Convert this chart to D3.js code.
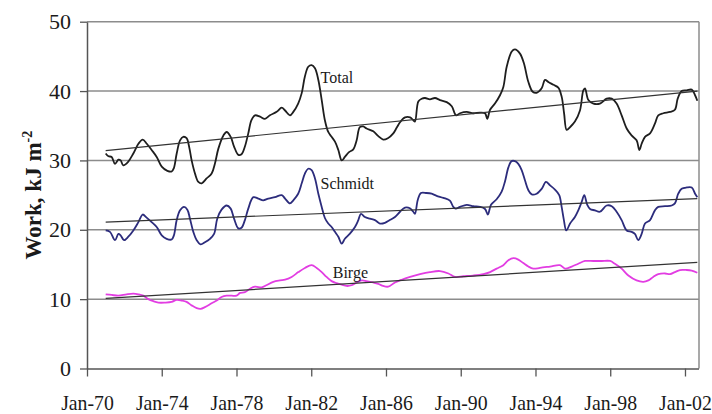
<!DOCTYPE html>
<html>
<head>
<meta charset="utf-8">
<script src="https://cdn.jsdelivr.net/npm/d3@7"></script>
<style>
  html, body { margin: 0; padding: 0; background: #fff; }
  svg { display: block; }
  text { font-family: "Liberation Serif", "Times New Roman", serif; fill: #1a1a1a; }
</style>
</head>
<body>
<svg id="chart" width="712" height="414"></svg>
<script>
// Monthly-smoothed lake work series (decimal years, kJ m^-2)
const totalYears = [1971.0,1971.15,1971.32,1971.5,1971.68,1971.8,1971.94,1972.2,1972.48,1972.75,1972.98,1973.2,1973.46,1973.73,1974.0,1974.3,1974.53,1974.65,1974.8,1974.98,1975.15,1975.33,1975.47,1975.6,1975.78,1975.96,1976.14,1976.4,1976.67,1976.85,1977.03,1977.3,1977.47,1977.69,1977.87,1978.1,1978.27,1978.45,1978.63,1978.8,1978.99,1979.26,1979.52,1979.79,1980.15,1980.42,1980.6,1980.86,1981.04,1981.3,1981.49,1981.66,1981.84,1982.02,1982.2,1982.38,1982.56,1982.73,1982.91,1983.09,1983.27,1983.45,1983.63,1983.8,1984.02,1984.25,1984.43,1984.6,1984.78,1984.96,1985.32,1985.59,1985.85,1986.1,1986.39,1986.57,1986.75,1987.02,1987.29,1987.46,1987.55,1987.73,1987.91,1988.09,1988.35,1988.62,1988.89,1989.25,1989.52,1989.75,1989.96,1990.32,1990.67,1991.03,1991.3,1991.42,1991.57,1991.83,1992.1,1992.28,1992.46,1992.73,1992.9,1993.17,1993.38,1993.62,1993.85,1994.06,1994.33,1994.51,1994.69,1994.96,1995.22,1995.4,1995.53,1995.67,1995.85,1996.11,1996.38,1996.56,1996.65,1996.83,1997.1,1997.45,1997.81,1998.08,1998.34,1998.61,1998.88,1999.14,1999.41,1999.56,1999.68,1999.86,2000.13,2000.39,2000.57,2000.84,2001.2,2001.46,2001.61,2001.82,2002.09,2002.36,2002.54,2002.66];
const totalValues = [31.0,30.6,30.5,29.5,30.1,30.0,29.3,29.8,31.0,32.4,33.0,32.4,31.5,30.5,29.1,28.5,28.4,28.9,31.0,32.9,33.4,33.2,31.9,30.0,28.1,26.9,26.7,27.4,28.1,29.6,31.7,33.6,34.1,33.4,32.0,30.8,30.9,32.0,33.9,35.8,36.5,36.3,36.0,36.5,37.0,37.6,37.2,36.5,37.0,38.2,39.7,42.1,43.5,43.75,43.3,41.6,38.7,35.8,34.1,33.4,32.7,31.5,30.0,30.5,31.2,31.6,32.9,34.8,34.9,34.6,34.2,33.5,33.0,33.2,33.9,34.7,35.5,36.2,36.2,35.8,35.6,38.5,38.9,39.0,38.8,39.0,38.7,38.4,37.8,36.5,36.8,37.0,36.8,36.9,36.8,36.0,37.3,38.2,39.4,40.6,43.5,45.7,46.0,45.4,44.0,41.3,39.9,39.75,40.4,41.6,41.3,40.9,40.5,39.2,36.8,34.4,34.8,35.6,37.2,40.1,40.4,38.7,38.2,38.2,38.9,38.9,38.2,36.5,34.6,33.6,32.9,31.5,32.4,33.4,33.9,35.3,36.5,36.8,37.0,37.3,38.9,40.0,40.1,40.2,39.4,38.6];

const schmidtYears = [1971.0,1971.23,1971.5,1971.68,1971.8,1971.98,1972.21,1972.48,1972.75,1972.98,1973.19,1973.46,1973.73,1974.0,1974.26,1974.53,1974.65,1974.8,1974.98,1975.19,1975.37,1975.51,1975.69,1975.87,1976.08,1976.31,1976.58,1976.8,1976.97,1977.2,1977.47,1977.69,1977.87,1978.1,1978.27,1978.45,1978.63,1978.9,1979.17,1979.43,1979.7,1980.06,1980.42,1980.6,1980.86,1981.04,1981.3,1981.49,1981.66,1981.84,1982.02,1982.2,1982.38,1982.56,1982.73,1982.91,1983.09,1983.27,1983.45,1983.63,1983.8,1984.07,1984.34,1984.52,1984.66,1984.87,1985.14,1985.41,1985.68,1985.94,1986.2,1986.48,1986.75,1987.02,1987.28,1987.46,1987.55,1987.7,1987.87,1988.17,1988.44,1988.71,1989.07,1989.42,1989.6,1989.73,1989.96,1990.32,1990.67,1991.03,1991.3,1991.45,1991.62,1991.92,1992.19,1992.37,1992.55,1992.72,1992.9,1993.08,1993.26,1993.44,1993.62,1993.8,1994.06,1994.33,1994.56,1994.78,1995.04,1995.27,1995.4,1995.52,1995.65,1995.85,1996.11,1996.29,1996.47,1996.61,1996.77,1996.92,1997.18,1997.45,1997.81,1998.08,1998.34,1998.61,1998.88,1999.14,1999.32,1999.5,1999.68,1999.86,2000.13,2000.39,2000.57,2000.93,2001.29,2001.46,2001.64,2001.82,2002.09,2002.36,2002.54,2002.66];
const schmidtValues = [19.9,19.7,18.5,19.4,19.2,18.5,19.0,19.9,21.1,22.2,21.75,21.1,20.4,19.2,18.7,18.6,19.2,21.4,22.8,23.3,22.9,21.6,19.7,18.5,17.9,18.2,18.7,19.4,21.6,22.9,23.5,23.05,21.6,20.2,20.3,21.4,23.05,24.7,24.5,24.25,24.5,24.7,25.0,24.5,23.8,24.25,25.2,26.7,28.1,28.8,28.6,27.4,25.2,23.3,21.7,20.9,20.4,19.7,19.0,18.0,18.7,19.45,20.4,21.4,22.3,21.85,21.6,21.4,20.9,21.0,21.4,21.85,22.6,23.2,23.1,22.6,22.3,24.3,25.3,25.3,25.2,24.9,24.6,24.2,23.3,23.05,23.3,23.6,23.4,23.3,23.0,22.2,23.6,24.4,25.5,27.0,29.0,29.9,29.9,29.5,28.6,27.1,25.7,25.1,25.2,25.9,26.9,26.4,25.8,25.0,23.3,21.4,19.9,20.9,21.85,22.8,24.0,25.0,23.6,23.0,22.8,22.6,23.5,23.4,22.6,21.4,19.9,19.7,19.4,18.5,19.4,20.9,21.4,22.8,23.3,23.4,23.5,23.8,25.2,25.9,26.1,26.1,25.2,24.7];

const birgeYears = [1971.0,1971.32,1971.68,1972.12,1972.48,1972.75,1973.01,1973.28,1973.55,1973.82,1974.17,1974.53,1974.8,1975.07,1975.33,1975.6,1975.87,1976.08,1976.31,1976.67,1976.94,1977.2,1977.47,1977.74,1978.0,1978.19,1978.45,1978.72,1978.99,1979.35,1979.6,1979.97,1980.33,1980.6,1980.95,1981.31,1981.66,1982.02,1982.29,1982.56,1982.82,1983.09,1983.36,1983.63,1983.89,1984.16,1984.43,1984.7,1984.96,1985.32,1985.59,1985.85,1986.12,1986.48,1986.84,1987.29,1987.82,1988.35,1988.89,1989.34,1989.69,1990.14,1990.67,1991.21,1991.57,1991.92,1992.28,1992.55,1992.82,1993.08,1993.35,1993.62,1993.88,1994.24,1994.78,1995.31,1995.58,1995.94,1996.29,1996.65,1997.1,1997.54,1997.99,1998.25,1998.61,1998.97,1999.41,1999.77,2000.04,2000.3,2000.57,2000.93,2001.2,2001.46,2001.73,2002.09,2002.36,2002.66];
const birgeValues = [10.7,10.6,10.5,10.7,10.8,10.7,10.5,10.0,9.7,9.5,9.5,9.6,9.9,9.8,9.6,9.1,8.7,8.6,8.85,9.4,9.8,10.3,10.5,10.5,10.5,10.9,11.0,11.5,11.8,11.7,12.0,12.5,12.7,12.8,13.2,13.9,14.5,14.9,14.5,13.9,13.2,12.6,12.3,12.1,11.9,12.0,12.4,12.7,12.6,12.4,12.2,11.9,11.8,12.4,12.8,13.2,13.6,13.9,14.05,13.7,13.2,13.3,13.4,13.6,13.9,14.4,14.9,15.6,15.9,15.7,15.2,14.7,14.4,14.5,14.7,14.9,14.4,14.7,15.1,15.5,15.5,15.5,15.5,15.1,14.4,13.4,12.7,12.5,12.7,13.2,13.6,13.7,13.6,13.9,14.2,14.2,14.1,13.8];

// Linear trend fits: start and end values over trendYears
const trendYears = [1971.0, 2002.66];
const totalTrend = [31.4, 40.0];
const schmidtTrend = [21.1, 24.5];
const birgeTrend = [10.1, 15.3];

const yTicks = [0, 10, 20, 30, 40, 50];
const xTickYears = [1970, 1974, 1978, 1982, 1986, 1990, 1994, 1998, 2002];
const xTickLabels = ["Jan-70", "Jan-74", "Jan-78", "Jan-82", "Jan-86", "Jan-90", "Jan-94", "Jan-98", "Jan-02"];

const svg = d3.select("#chart");
const plotLeft = 87, plotRight = 699, plotTop = 21.7, plotBottom = 368.5;

const x = d3.scaleLinear().domain([1970, 2002.75]).range([plotLeft, plotRight]);
const y = d3.scaleLinear().domain([0, 50]).range([plotBottom, plotTop]);

svg.append("rect").attr("width", 712).attr("height", 414).attr("fill", "#fff");

// horizontal gridlines
svg.append("g")
  .selectAll("line")
  .data(yTicks.filter(d => d > 0))
  .join("line")
  .attr("x1", plotLeft).attr("x2", plotRight)
  .attr("y1", d => y(d)).attr("y2", d => y(d))
  .attr("stroke", "#8c8c8c").attr("stroke-width", 1.5);

// right frame edge
svg.append("line")
  .attr("x1", plotRight).attr("x2", plotRight).attr("y1", y(50)).attr("y2", y(0))
  .attr("stroke", "#8c8c8c").attr("stroke-width", 1.5);

// y axis
const yAxis = svg.append("g")
  .attr("transform", `translate(${plotLeft},0)`)
  .call(d3.axisLeft(y).tickValues(yTicks).tickSize(7).tickSizeOuter(0).tickPadding(9));
yAxis.select(".domain").attr("stroke", "#555").attr("stroke-width", 1.5);
yAxis.selectAll(".tick line").attr("stroke", "#555").attr("stroke-width", 1.3);
yAxis.selectAll("text").attr("font-size", 22).attr("fill", "#1a1a1a")
  .style("font-family", "'Liberation Serif', serif");

// x axis (labels set slightly condensed, as in the serif face used for the axis)
const xAxis = svg.append("g")
  .attr("transform", `translate(0,${plotBottom})`)
  .call(d3.axisBottom(x).tickValues(xTickYears)
    .tickFormat((d, i) => xTickLabels[i]).tickSize(8).tickSizeOuter(0).tickPadding(18));
xAxis.select(".domain").attr("d", `M${plotLeft},0.5H${plotRight}`).attr("stroke", "#555").attr("stroke-width", 1.5);
xAxis.selectAll(".tick line").attr("stroke", "#555").attr("stroke-width", 1.3);
xAxis.selectAll("text").attr("font-size", 22).attr("fill", "#1a1a1a")
  .attr("transform", "scale(0.9,1)")
  .style("font-family", "'Liberation Serif', serif");

// y axis title
const title = svg.append("text")
  .attr("transform", `translate(41,${(plotTop + plotBottom) / 2}) rotate(-90)`)
  .attr("text-anchor", "middle")
  .attr("font-weight", "bold")
  .attr("font-size", 23);
title.append("tspan").text("Work, kJ m");
title.append("tspan").attr("dy", -9).attr("font-size", 14).text("-2");

// series
const line = d3.line().x(d => x(d[0])).y(d => y(d[1])).curve(d3.curveCatmullRom.alpha(0.5));
const pairs = (xs, vs) => xs.map((t, i) => [t, vs[i]]);

const series = [
  { years: birgeYears, values: birgeValues, color: "#e23de2", trend: birgeTrend },
  { years: schmidtYears, values: schmidtValues, color: "#2c2c7c", trend: schmidtTrend },
  { years: totalYears, values: totalValues, color: "#1e1e1e", trend: totalTrend }
];

series.forEach(s => {
  svg.append("path")
    .attr("d", line(pairs(s.years, s.values)))
    .attr("fill", "none").attr("stroke", s.color).attr("stroke-width", 1.8)
    .attr("stroke-linejoin", "round");
});

// trend lines
series.forEach(s => {
  svg.append("line")
    .attr("x1", x(trendYears[0])).attr("y1", y(s.trend[0]))
    .attr("x2", x(trendYears[1])).attr("y2", y(s.trend[1]))
    .attr("stroke", "#333").attr("stroke-width", 1.2);
});

// series labels
const labels = [
  { text: "Total", year: 1982.5, value: 41.1 },
  { text: "Schmidt", year: 1982.5, value: 25.9 },
  { text: "Birge", year: 1983.15, value: 13.1 }
];
svg.append("g").selectAll("text")
  .data(labels)
  .join("text")
  .attr("x", d => x(d.year)).attr("y", d => y(d.value))
  .attr("font-size", 16)
  .text(d => d.text);
</script>
</body>
</html>
